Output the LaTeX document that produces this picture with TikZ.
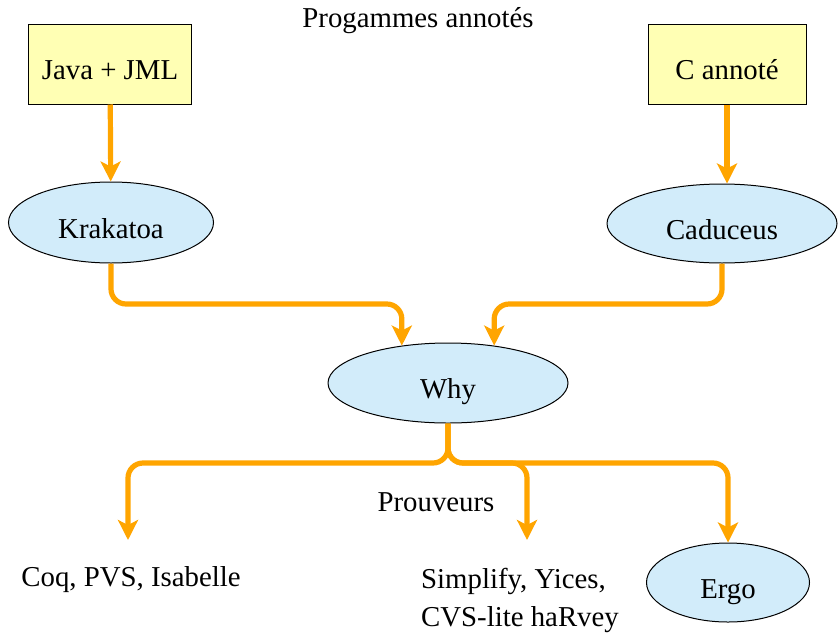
\documentclass[tikz,border=0pt]{standalone}
\usepackage{fontspec}
\setmainfont{Liberation Serif}
\usepackage{tikz}
\usetikzlibrary{arrows.meta,shapes.geometric}
\definecolor{boxyellow}{RGB}{255,255,180}
\definecolor{ellblue}{RGB}{210,236,250}
\definecolor{arrorange}{RGB}{255,165,0}

\begin{document}
\begin{tikzpicture}[
    x=0.5pt, y=-0.5pt,
    font=\fontsize{14.4}{19}\selectfont,
    >={Stealth[length=10pt,width=10pt,inset=2.5pt]},
    lang/.style={draw, line width=0.5pt, fill=boxyellow, minimum width=81.5pt, minimum height=40pt, inner sep=0pt, text height=15.5pt, text depth=0pt},
    tool/.style={ellipse, draw, line width=0.5pt, fill=ellblue, inner sep=0pt, text height=15.5pt, text depth=0pt},
    label/.style={inner sep=0pt, align=left},
    arr/.style={->, line width=2.6pt, arrorange, rounded corners=7.5pt}
]
    \useasboundingbox (0,0) rectangle (838,637);

    \node[label] (title) at (418,21) {Progammes annotés};
    \node[lang] (java) at (110,64) {Java + JML};
    \node[lang, minimum width=79pt] (cann) at (727,64) {C annoté};
    \node[tool, minimum width=102.5pt, minimum height=40.5pt] (krak) at (111,222.5) {Krakatoa};
    \node[tool, minimum width=115pt, minimum height=39.5pt] (cad) at (722,223.5) {Caduceus};
    \node[tool, minimum width=120pt, minimum height=40pt] (why) at (448,383) {Why};
    \node[label] (prouv) at (436,502) {Prouveurs};
    \node[label] (coq) at (131,580) {Coq, PVS, Isabelle};
    \node[label] (simp) at (520,600) {Simplify, Yices,\\CVS-lite haRvey};
    \node[tool, minimum width=81.5pt, minimum height=39.5pt] (ergo) at (728,582.5) {Ergo};
    \coordinate (tcoq) at (128,540);
    \coordinate (tsimp) at (527,540);

    \draw[arr] (java) -- (krak);
    \draw[arr] (cann) -- (cann.south |- cad.north);
    \draw[arr] (krak.south) -- (krak.south |- 0,304) -| (why.141);
    \draw[arr] (cad.south) -- (cad.south |- 0,304) -| (why.39);
    \draw[arr] (why.south) -- (448,463) -| (tcoq);
    \draw[arr] (why.south) -- (448,463) -| (tsimp);
    \draw[arr] (why.south) -- (448,463) -| (ergo.north);
\end{tikzpicture}
\end{document}
